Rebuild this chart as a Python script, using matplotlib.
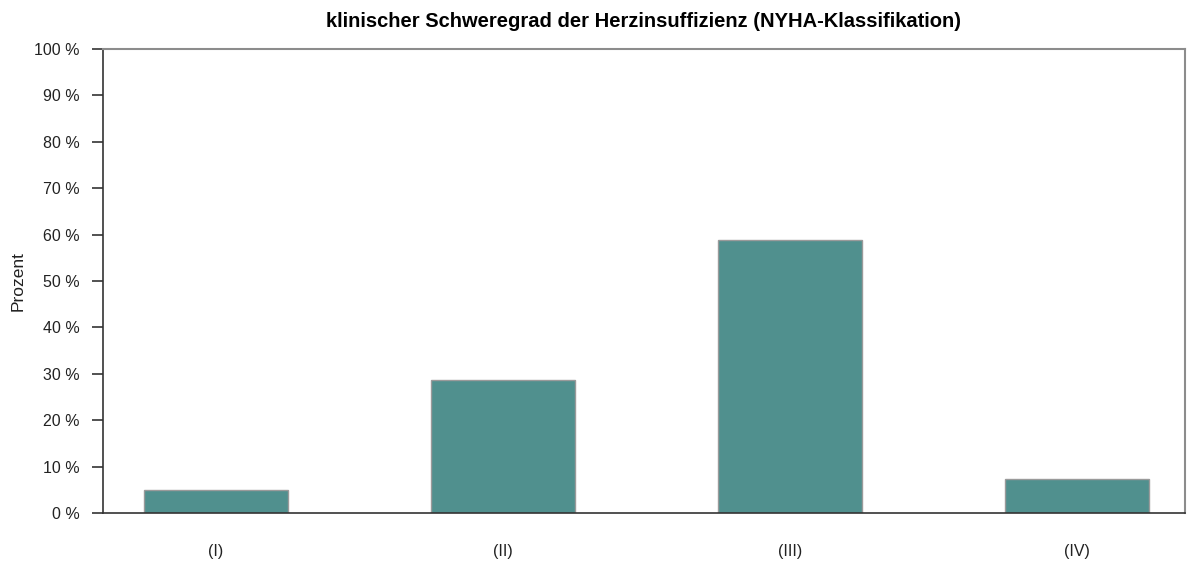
import matplotlib
matplotlib.use("Agg")
import matplotlib.pyplot as plt
import numpy as np

plt.rcParams['font.family'] = ['Liberation Sans', 'DejaVu Sans']

categories = ["(I)", "(II)", "(III)", "(IV)"]
values = [5.0, 28.7, 58.8, 7.3]
yticks = [0, 10, 20, 30, 40, 50, 60, 70, 80, 90, 100]

fig = plt.figure(figsize=(11.89, 5.65), dpi=100)
ax = fig.add_axes([0.0866, 0.092, 0.91, 0.8213])

x = np.arange(len(categories))
ax.bar(x, values, width=0.5, color="#50908e", edgecolor="#9a9a9a", linewidth=1.0, zorder=2)

ax.set_xlim(-0.394, 3.376)
ax.set_ylim(0, 100)
ax.set_yticks(yticks)
ax.set_yticklabels([f"{t} %" for t in yticks], fontsize=11.5, color="#222222")
ax.set_xticks(x)
ax.set_xticklabels(categories, fontsize=11.5, color="#222222")
ax.tick_params(axis="x", length=0, pad=22)
ax.tick_params(axis="y", length=8, width=1.2, color="#333333", pad=9)

for side in ["left", "bottom"]:
    ax.spines[side].set_color("#333333")
    ax.spines[side].set_linewidth(1.2)
for side in ["top", "right"]:
    ax.spines[side].set_color("#8c8c8c")
    ax.spines[side].set_linewidth(1.5)

ax.set_ylabel("Prozent", fontsize=12.5, color="#222222", labelpad=6)
ax.set_title("klinischer Schweregrad der Herzinsuffizienz (NYHA-Klassifikation)",
             fontsize=14.5, fontweight="bold", pad=16)

fig.savefig("out.png", dpi=100)
